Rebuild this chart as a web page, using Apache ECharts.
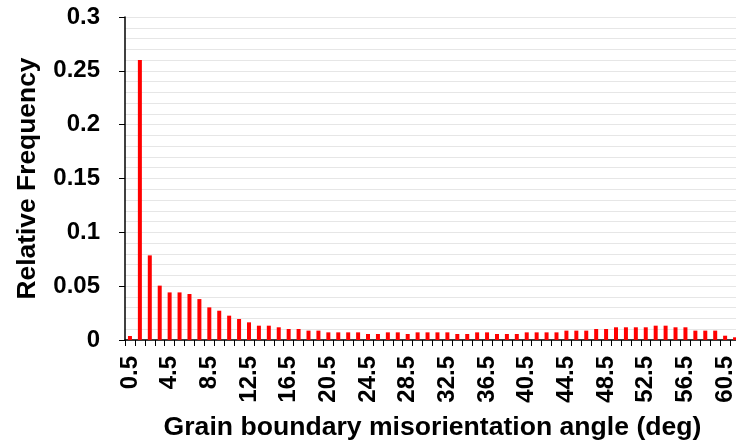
<!DOCTYPE html>
<html>
<head>
<meta charset="utf-8">
<script src="https://cdn.jsdelivr.net/npm/echarts@6/dist/echarts.min.js"></script>
<style>
html,body{margin:0;padding:0;background:#fff;}
#chart{width:736px;height:445px;}
</style>
</head>
<body>
<div id="chart"></div>
<script>
const categories = ['0.5','1.5','2.5','3.5','4.5','5.5','6.5','7.5','8.5','9.5',
  '10.5','11.5','12.5','13.5','14.5','15.5','16.5','17.5','18.5','19.5',
  '20.5','21.5','22.5','23.5','24.5','25.5','26.5','27.5','28.5','29.5',
  '30.5','31.5','32.5','33.5','34.5','35.5','36.5','37.5','38.5','39.5',
  '40.5','41.5','42.5','43.5','44.5','45.5','46.5','47.5','48.5','49.5',
  '50.5','51.5','52.5','53.5','54.5','55.5','56.5','57.5','58.5','59.5',
  '60.5','61.5'];
const relativeFrequency = [0.0037,0.260,0.0786,0.0505,0.0442,0.0442,0.0427,0.0380,0.0303,0.0272,
  0.0226,0.0195,0.0164,0.0133,0.0133,0.0118,0.0102,0.0102,0.0087,0.0087,
  0.0071,0.0071,0.0071,0.0071,0.0056,0.0056,0.0071,0.0071,0.0056,0.0071,
  0.0071,0.0071,0.0071,0.0056,0.0056,0.0071,0.0071,0.0056,0.0056,0.0056,
  0.0071,0.0071,0.0071,0.0071,0.0087,0.0087,0.0087,0.0102,0.0102,0.0118,
  0.0118,0.0118,0.0118,0.0133,0.0133,0.0118,0.0118,0.0087,0.0087,0.0087,
  0.0040,0.0025];
const yTicks = {min:0, max:0.3, step:0.05};
const xTitle = 'Grain boundary misorientation angle (deg)';
const yTitle = 'Relative Frequency';

const chart = echarts.init(document.getElementById('chart'), null, {renderer:'canvas'});
const font = 'Liberation Sans, Arial, sans-serif';
chart.setOption({
  animation:false,
  backgroundColor:'#ffffff',
  grid:{left:125, right:-4, top:17, bottom:105, containLabel:false, outerBoundsMode:'none'},
  xAxis:{
    type:'category',
    data:categories,
    boundaryGap:true,
    name:xTitle,
    nameLocation:'middle',
    nameGap:74,
    nameMoveOverlap:false,
    nameTextStyle:{fontFamily:font, fontWeight:'bold', fontSize:26.6, color:'#000'},
    axisLine:{show:true, lineStyle:{color:'#000', width:1.5}},
    axisTick:{show:true, interval:0, length:6, inside:false, lineStyle:{color:'#000', width:1}},
    axisLabel:{interval:3, rotate:90, margin:16, fontFamily:font, fontWeight:'bold', fontSize:24, color:'#000', hideOverlap:false},
    splitLine:{show:false}
  },
  yAxis:{
    type:'value',
    min:yTicks.min, max:yTicks.max, interval:yTicks.step,
    name:yTitle,
    nameLocation:'middle',
    nameRotate:90,
    nameGap:84,
    nameMoveOverlap:false,
    nameTextStyle:{fontFamily:font, fontWeight:'bold', fontSize:26.4, color:'#000'},
    axisLine:{show:true, lineStyle:{color:'#000', width:1.5}},
    axisTick:{show:true, length:6, inside:false, lineStyle:{color:'#000', width:1}},
    axisLabel:{margin:25, fontFamily:font, fontWeight:'bold', fontSize:24, color:'#000',
      formatter:function(v){return String(parseFloat(v.toFixed(2)));}},
    splitLine:{show:true, lineStyle:{color:'#e6e6e6', width:1}},
    minorTick:{show:false, splitNumber:5},
    minorSplitLine:{show:true, lineStyle:{color:'#e6e6e6', width:1}}
  },
  series:[{
    type:'bar',
    data:relativeFrequency,
    barWidth:4,
    itemStyle:{color:'#ff0000'},
    silent:true
  }]
});
</script>
</body>
</html>
